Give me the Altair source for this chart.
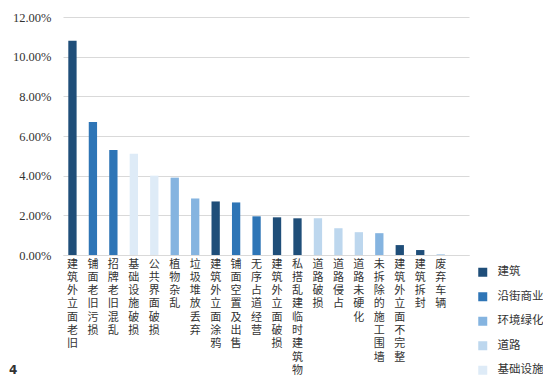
import altair as alt
import pandas as pd

items = ["建筑外立面老旧", "铺面老旧污损", "招牌老旧混乱", "基础设施破损", "公共界面破损",
         "植物杂乱", "垃圾堆放丢弃", "建筑外立面涂鸦", "铺面空置及出售", "无序占道经营",
         "建筑外立面破损", "私搭乱建临时建筑物", "道路破损", "道路侵占", "道路未硬化",
         "未拆除的施工围墙", "建筑外立面不完整", "建筑拆封", "废弃车辆"]
values = [0.108, 0.067, 0.053, 0.051, 0.040, 0.039, 0.0285, 0.027, 0.0265, 0.0195,
          0.019, 0.0185, 0.0185, 0.0135, 0.0115, 0.011, 0.005, 0.0025, 0.0005]
groups = ["建筑", "沿街商业", "沿街商业", "基础设施", "基础设施", "环境绿化", "环境绿化",
          "建筑", "沿街商业", "沿街商业", "建筑", "建筑", "道路", "道路", "道路",
          "环境绿化", "建筑", "建筑", "道路"]
group_order = ["建筑", "沿街商业", "环境绿化", "道路", "基础设施"]
group_colors = ["#1f4e79", "#2e75b6", "#85b4e0", "#bdd7ee", "#deebf7"]

df = pd.DataFrame({"item": items, "value": values, "group": groups})

chart = alt.Chart(df).mark_bar().encode(
    x=alt.X("item:N", sort=items, title=None,
            scale=alt.Scale(paddingInner=0.594, paddingOuter=0.72, align=0.18),
            axis=alt.Axis(labelAngle=0, labelExpr="split(datum.label, '')",
                          labelFont="Noto Sans CJK SC", labelFontSize=11,
                          labelLineHeight=13.3, labelColor="#333333",
                          labelBaseline="top", labelPadding=3,
                          ticks=False, domainColor="#d9d9d9", grid=False)),
    y=alt.Y("value:Q", title=None,
            scale=alt.Scale(domain=[0, 0.12]),
            axis=alt.Axis(format=".2%", values=[0, 0.02, 0.04, 0.06, 0.08, 0.10, 0.12],
                          labelFont="Liberation Serif", labelFontSize=12.5,
                          labelColor="#333333", labelPadding=12,
                          ticks=False, domain=False, gridColor="#d9d9d9")),
    color=alt.Color("group:N", sort=group_order,
                    scale=alt.Scale(domain=group_order, range=group_colors),
                    legend=alt.Legend(title=None, orient="none", legendX=414, legendY=249.5,
                                      symbolType="square", symbolSize=81,
                                      symbolStrokeWidth=0,
                                      labelFont="Noto Sans CJK SC", labelFontSize=11.5,
                                      labelColor="#333333", rowPadding=11.5,
                                      labelOffset=9)),
).properties(
    width=406, height=238,
    title=alt.TitleParams("4", orient="bottom", anchor="start", frame="group",
                          font="DejaVu Sans", fontSize=12, fontWeight="bold",
                          color="#333333", offset=-12, dx=-54),
    autosize=alt.AutoSizeParams(type="none"),
    padding={"left": 55, "top": 9, "right": 74, "bottom": 123},
).configure_view(stroke=None)

chart.save("out.html", embed_options={"renderer": "svg", "actions": False})
